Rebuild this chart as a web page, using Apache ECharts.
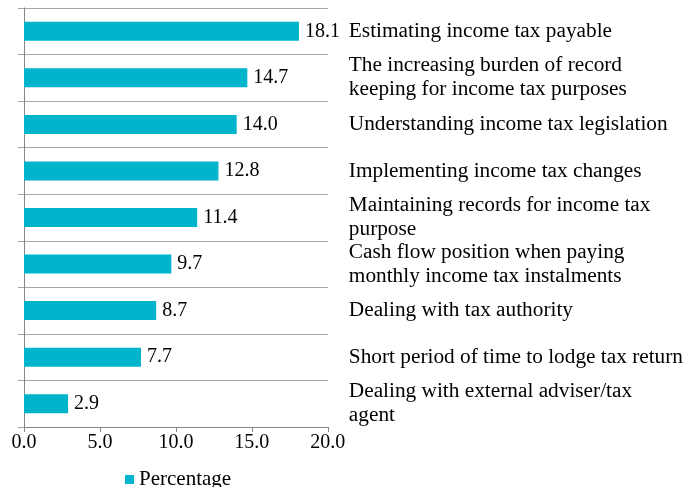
<!DOCTYPE html>
<html>
<head>
<meta charset="utf-8">
<script src="https://cdn.jsdelivr.net/npm/echarts@6/dist/echarts.min.js"></script>
<style>
  html, body { margin: 0; padding: 0; background: #fff; }
  #chart { width: 686px; height: 487px; }
</style>
</head>
<body>
<div id="chart"></div>
<script>
// categories top to bottom
const categories = [
  'Estimating income tax payable',
  'The increasing burden of record\nkeeping for income tax purposes',
  'Understanding income tax legislation',
  'Implementing income tax changes',
  'Maintaining records for income tax\npurpose',
  'Cash flow position when paying\nmonthly income tax instalments',
  'Dealing with tax authority',
  'Short period of time to lodge tax return',
  'Dealing with external adviser/tax\nagent'
];
const percentage = [18.1, 14.7, 14.0, 12.8, 11.4, 9.7, 8.7, 7.7, 2.9];
const xTicks = { min: 0, max: 20, interval: 5 };

const font = 'Liberation Serif, Times New Roman, serif';
const chart = echarts.init(document.getElementById('chart'));
chart.setOption({
  animation: false,
  textStyle: { fontFamily: font, color: '#000' },
  grid: { left: 24, right: 358, top: 8, bottom: 60, containLabel: false },
  legend: {
    data: ['Percentage'],
    top: 464,
    left: 120,
    itemWidth: 9,
    itemHeight: 9,
    icon: 'rect',
    itemGap: 8,
    textStyle: { fontFamily: font, fontSize: 21, color: '#000' }
  },
  xAxis: {
    type: 'value',
    min: xTicks.min,
    max: xTicks.max,
    interval: xTicks.interval,
    axisLine: { show: true, lineStyle: { color: '#868686' } },
    axisTick: { show: true, length: 5, lineStyle: { color: '#868686' } },
    splitLine: { show: false },
    axisLabel: {
      fontFamily: font, fontSize: 20, color: '#000', margin: 6,
      formatter: v => v.toFixed(1)
    }
  },
  yAxis: [
    {
      type: 'category',
      data: categories,
      inverse: true,
      position: 'left',
      axisLine: { show: true, lineStyle: { color: '#868686', width: 1 } },
      axisTick: { show: true, length: 6, lineStyle: { color: '#a6a6a6' } },
      splitLine: { show: true, lineStyle: { color: '#a6a6a6' } },
      axisLabel: { show: false }
    },
    {
      type: 'category',
      data: categories,
      inverse: true,
      position: 'right',
      axisLine: { show: false },
      axisTick: { show: false },
      splitLine: { show: false },
      axisLabel: {
        show: true, align: 'left', margin: 21,
        padding: [4, 0, 0, 0],
        fontFamily: font, fontSize: 21.3, lineHeight: 24, color: '#000'
      }
    }
  ],
  series: [{
    name: 'Percentage',
    type: 'bar',
    data: percentage,
    barWidth: 19,
    itemStyle: { color: '#00B4CC' },
    label: {
      show: true, position: 'right', distance: 6,
      fontFamily: font, fontSize: 20, color: '#000',
      formatter: p => p.value.toFixed(1)
    }
  }]
});
</script>
</body>
</html>
